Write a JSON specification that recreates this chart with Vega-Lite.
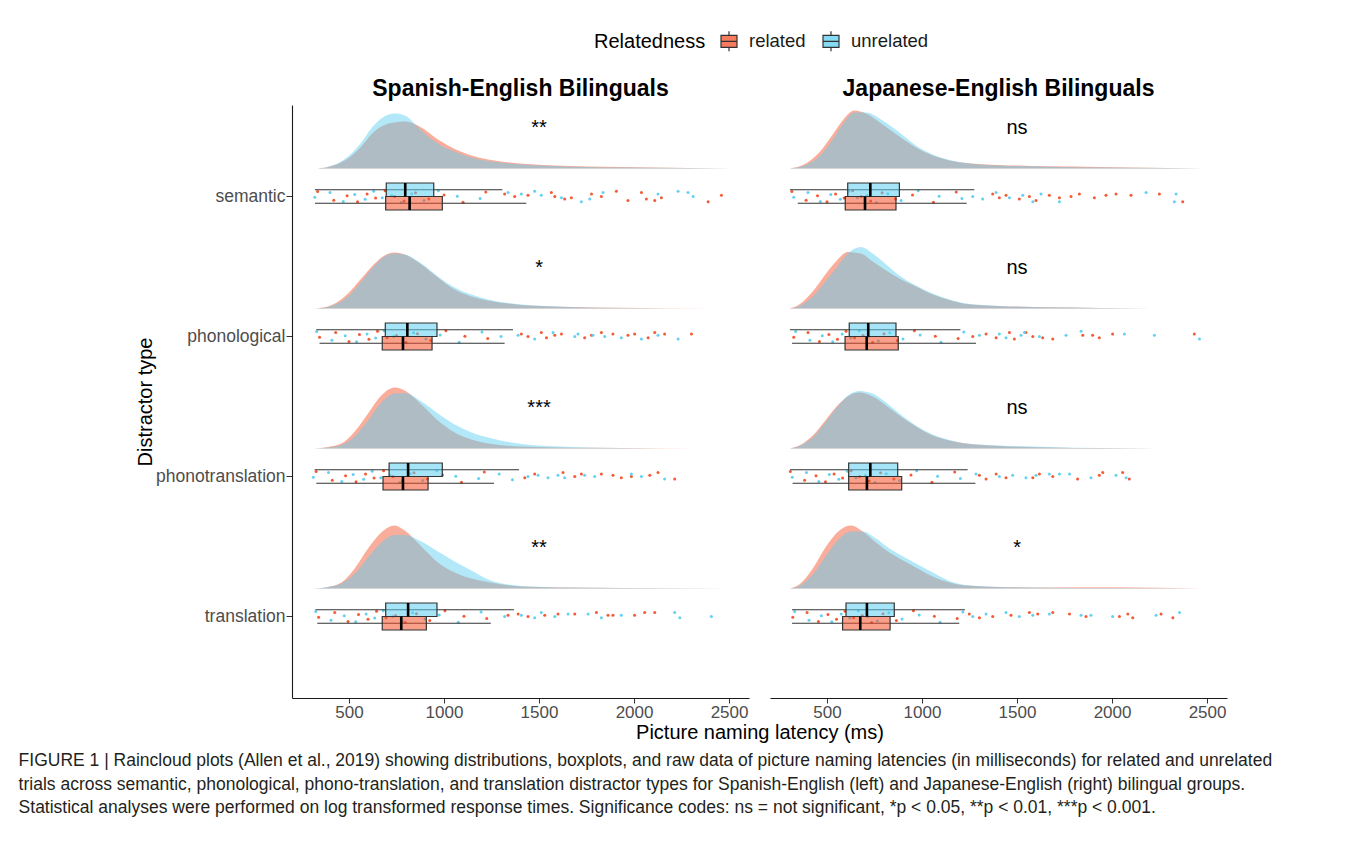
{
"$schema": "https://vega.github.io/schema/vega-lite/v6.json",
"padding": {"left": 18, "top": 30, "right": 5, "bottom": 8},
"data": {"values": [
{"p":"Spanish","c":"semantic","r":"unrelated","lo":321,"q1":696,"med":796,"q3":946,"hi":1307},
{"p":"Spanish","c":"semantic","r":"related","lo":321,"q1":693,"med":819,"q3":991,"hi":1433},
{"p":"Spanish","c":"phonological","r":"unrelated","lo":328,"q1":691,"med":807,"q3":963,"hi":1363},
{"p":"Spanish","c":"phonological","r":"related","lo":345,"q1":675,"med":784,"q3":937,"hi":1319},
{"p":"Spanish","c":"phonotranslation","r":"unrelated","lo":319,"q1":711,"med":811,"q3":991,"hi":1395},
{"p":"Spanish","c":"phonotranslation","r":"related","lo":328,"q1":679,"med":784,"q3":916,"hi":1263},
{"p":"Spanish","c":"translation","r":"unrelated","lo":323,"q1":693,"med":811,"q3":963,"hi":1368},
{"p":"Spanish","c":"translation","r":"related","lo":333,"q1":675,"med":775,"q3":907,"hi":1246},
{"p":"Japanese","c":"semantic","r":"unrelated","lo":305,"q1":609,"med":728,"q3":881,"hi":1275},
{"p":"Japanese","c":"semantic","r":"related","lo":346,"q1":596,"med":700,"q3":863,"hi":1235},
{"p":"Japanese","c":"phonological","r":"unrelated","lo":305,"q1":617,"med":717,"q3":863,"hi":1202},
{"p":"Japanese","c":"phonological","r":"related","lo":316,"q1":595,"med":709,"q3":875,"hi":1284},
{"p":"Japanese","c":"phonotranslation","r":"unrelated","lo":305,"q1":614,"med":728,"q3":872,"hi":1240},
{"p":"Japanese","c":"phonotranslation","r":"related","lo":319,"q1":614,"med":710,"q3":893,"hi":1281},
{"p":"Japanese","c":"translation","r":"unrelated","lo":316,"q1":600,"med":710,"q3":854,"hi":1226},
{"p":"Japanese","c":"translation","r":"related","lo":316,"q1":582,"med":675,"q3":832,"hi":1196},
{"p":"Spanish","c":"semantic","lab":"**"},{"p":"Spanish","c":"phonological","lab":"*"},{"p":"Spanish","c":"phonotranslation","lab":"***"},{"p":"Spanish","c":"translation","lab":"**"},
{"p":"Japanese","c":"semantic","lab":"ns"},{"p":"Japanese","c":"phonological","lab":"ns"},{"p":"Japanese","c":"phonotranslation","lab":"ns"},{"p":"Japanese","c":"translation","lab":"*"},
{"p":"Spanish","c":"semantic","r":"related","x":316,"d":0},{"p":"Spanish","c":"semantic","r":"related","x":389,"d":0.08},{"p":"Spanish","c":"semantic","r":"related","x":495,"d":0.5},{"p":"Spanish","c":"semantic","r":"related","x":565,"d":1.1},{"p":"Spanish","c":"semantic","r":"related","x":617,"d":1.7},{"p":"Spanish","c":"semantic","r":"related","x":670,"d":2.1},{"p":"Spanish","c":"semantic","r":"related","x":740,"d":2.3},{"p":"Spanish","c":"semantic","r":"related","x":793,"d":2.35},{"p":"Spanish","c":"semantic","r":"related","x":881,"d":2.05},{"p":"Spanish","c":"semantic","r":"related","x":968,"d":1.45},{"p":"Spanish","c":"semantic","r":"related","x":1056,"d":0.98},{"p":"Spanish","c":"semantic","r":"related","x":1144,"d":0.65},{"p":"Spanish","c":"semantic","r":"related","x":1319,"d":0.33},{"p":"Spanish","c":"semantic","r":"related","x":1583,"d":0.15},{"p":"Spanish","c":"semantic","r":"related","x":1933,"d":0.08},{"p":"Spanish","c":"semantic","r":"related","x":2284,"d":0.03},{"p":"Spanish","c":"semantic","r":"related","x":2504,"d":0},
{"p":"Spanish","c":"semantic","r":"unrelated","x":316,"d":0},{"p":"Spanish","c":"semantic","r":"unrelated","x":389,"d":0.08},{"p":"Spanish","c":"semantic","r":"unrelated","x":495,"d":0.6},{"p":"Spanish","c":"semantic","r":"unrelated","x":565,"d":1.3},{"p":"Spanish","c":"semantic","r":"unrelated","x":617,"d":2},{"p":"Spanish","c":"semantic","r":"unrelated","x":670,"d":2.5},{"p":"Spanish","c":"semantic","r":"unrelated","x":740,"d":2.75},{"p":"Spanish","c":"semantic","r":"unrelated","x":793,"d":2.65},{"p":"Spanish","c":"semantic","r":"unrelated","x":881,"d":1.9},{"p":"Spanish","c":"semantic","r":"unrelated","x":968,"d":1.25},{"p":"Spanish","c":"semantic","r":"unrelated","x":1056,"d":0.85},{"p":"Spanish","c":"semantic","r":"unrelated","x":1144,"d":0.55},{"p":"Spanish","c":"semantic","r":"unrelated","x":1319,"d":0.28},{"p":"Spanish","c":"semantic","r":"unrelated","x":1583,"d":0.13},{"p":"Spanish","c":"semantic","r":"unrelated","x":1933,"d":0.05},{"p":"Spanish","c":"semantic","r":"unrelated","x":2284,"d":0.03},{"p":"Spanish","c":"semantic","r":"unrelated","x":2504,"d":0},
{"p":"Japanese","c":"semantic","r":"related","x":302,"d":0},{"p":"Japanese","c":"semantic","r":"related","x":389,"d":0.25},{"p":"Japanese","c":"semantic","r":"related","x":459,"d":0.8},{"p":"Japanese","c":"semantic","r":"related","x":530,"d":1.7},{"p":"Japanese","c":"semantic","r":"related","x":582,"d":2.4},{"p":"Japanese","c":"semantic","r":"related","x":644,"d":2.9},{"p":"Japanese","c":"semantic","r":"related","x":705,"d":2.75},{"p":"Japanese","c":"semantic","r":"related","x":793,"d":2.2},{"p":"Japanese","c":"semantic","r":"related","x":881,"d":1.6},{"p":"Japanese","c":"semantic","r":"related","x":968,"d":1.05},{"p":"Japanese","c":"semantic","r":"related","x":1056,"d":0.65},{"p":"Japanese","c":"semantic","r":"related","x":1144,"d":0.4},{"p":"Japanese","c":"semantic","r":"related","x":1232,"d":0.28},{"p":"Japanese","c":"semantic","r":"related","x":1407,"d":0.18},{"p":"Japanese","c":"semantic","r":"related","x":1670,"d":0.11},{"p":"Japanese","c":"semantic","r":"related","x":1933,"d":0.08},{"p":"Japanese","c":"semantic","r":"related","x":2284,"d":0.03},{"p":"Japanese","c":"semantic","r":"related","x":2477,"d":0},
{"p":"Japanese","c":"semantic","r":"unrelated","x":302,"d":0},{"p":"Japanese","c":"semantic","r":"unrelated","x":389,"d":0.18},{"p":"Japanese","c":"semantic","r":"unrelated","x":459,"d":0.6},{"p":"Japanese","c":"semantic","r":"unrelated","x":530,"d":1.45},{"p":"Japanese","c":"semantic","r":"unrelated","x":582,"d":2.2},{"p":"Japanese","c":"semantic","r":"unrelated","x":644,"d":2.8},{"p":"Japanese","c":"semantic","r":"unrelated","x":705,"d":2.8},{"p":"Japanese","c":"semantic","r":"unrelated","x":793,"d":2.4},{"p":"Japanese","c":"semantic","r":"unrelated","x":881,"d":1.8},{"p":"Japanese","c":"semantic","r":"unrelated","x":968,"d":1.15},{"p":"Japanese","c":"semantic","r":"unrelated","x":1056,"d":0.7},{"p":"Japanese","c":"semantic","r":"unrelated","x":1144,"d":0.43},{"p":"Japanese","c":"semantic","r":"unrelated","x":1232,"d":0.28},{"p":"Japanese","c":"semantic","r":"unrelated","x":1407,"d":0.15},{"p":"Japanese","c":"semantic","r":"unrelated","x":1670,"d":0.09},{"p":"Japanese","c":"semantic","r":"unrelated","x":1933,"d":0.05},{"p":"Japanese","c":"semantic","r":"unrelated","x":2284,"d":0.03},{"p":"Japanese","c":"semantic","r":"unrelated","x":2477,"d":0},
{"p":"Spanish","c":"phonological","r":"related","x":316,"d":0},{"p":"Spanish","c":"phonological","r":"related","x":389,"d":0.1},{"p":"Spanish","c":"phonological","r":"related","x":495,"d":0.75},{"p":"Spanish","c":"phonological","r":"related","x":565,"d":1.5},{"p":"Spanish","c":"phonological","r":"related","x":635,"d":2.25},{"p":"Spanish","c":"phonological","r":"related","x":687,"d":2.65},{"p":"Spanish","c":"phonological","r":"related","x":740,"d":2.8},{"p":"Spanish","c":"phonological","r":"related","x":793,"d":2.7},{"p":"Spanish","c":"phonological","r":"related","x":881,"d":2.2},{"p":"Spanish","c":"phonological","r":"related","x":968,"d":1.55},{"p":"Spanish","c":"phonological","r":"related","x":1056,"d":0.95},{"p":"Spanish","c":"phonological","r":"related","x":1144,"d":0.6},{"p":"Spanish","c":"phonological","r":"related","x":1232,"d":0.4},{"p":"Spanish","c":"phonological","r":"related","x":1407,"d":0.18},{"p":"Spanish","c":"phonological","r":"related","x":1670,"d":0.08},{"p":"Spanish","c":"phonological","r":"related","x":1933,"d":0.04},{"p":"Spanish","c":"phonological","r":"related","x":2407,"d":0},
{"p":"Spanish","c":"phonological","r":"unrelated","x":316,"d":0},{"p":"Spanish","c":"phonological","r":"unrelated","x":389,"d":0.08},{"p":"Spanish","c":"phonological","r":"unrelated","x":495,"d":0.6},{"p":"Spanish","c":"phonological","r":"unrelated","x":565,"d":1.35},{"p":"Spanish","c":"phonological","r":"unrelated","x":635,"d":2.15},{"p":"Spanish","c":"phonological","r":"unrelated","x":687,"d":2.6},{"p":"Spanish","c":"phonological","r":"unrelated","x":740,"d":2.75},{"p":"Spanish","c":"phonological","r":"unrelated","x":793,"d":2.7},{"p":"Spanish","c":"phonological","r":"unrelated","x":881,"d":2.25},{"p":"Spanish","c":"phonological","r":"unrelated","x":968,"d":1.6},{"p":"Spanish","c":"phonological","r":"unrelated","x":1056,"d":1.05},{"p":"Spanish","c":"phonological","r":"unrelated","x":1144,"d":0.7},{"p":"Spanish","c":"phonological","r":"unrelated","x":1232,"d":0.45},{"p":"Spanish","c":"phonological","r":"unrelated","x":1407,"d":0.2},{"p":"Spanish","c":"phonological","r":"unrelated","x":1670,"d":0.08},{"p":"Spanish","c":"phonological","r":"unrelated","x":1933,"d":0.03},{"p":"Spanish","c":"phonological","r":"unrelated","x":2407,"d":0},
{"p":"Japanese","c":"phonological","r":"related","x":302,"d":0},{"p":"Japanese","c":"phonological","r":"related","x":354,"d":0.2},{"p":"Japanese","c":"phonological","r":"related","x":425,"d":0.85},{"p":"Japanese","c":"phonological","r":"related","x":495,"d":1.75},{"p":"Japanese","c":"phonological","r":"related","x":547,"d":2.35},{"p":"Japanese","c":"phonological","r":"related","x":609,"d":2.83},{"p":"Japanese","c":"phonological","r":"related","x":679,"d":2.75},{"p":"Japanese","c":"phonological","r":"related","x":740,"d":2.35},{"p":"Japanese","c":"phonological","r":"related","x":811,"d":1.9},{"p":"Japanese","c":"phonological","r":"related","x":881,"d":1.5},{"p":"Japanese","c":"phonological","r":"related","x":968,"d":1.1},{"p":"Japanese","c":"phonological","r":"related","x":1056,"d":0.7},{"p":"Japanese","c":"phonological","r":"related","x":1144,"d":0.43},{"p":"Japanese","c":"phonological","r":"related","x":1232,"d":0.23},{"p":"Japanese","c":"phonological","r":"related","x":1407,"d":0.13},{"p":"Japanese","c":"phonological","r":"related","x":1670,"d":0.06},{"p":"Japanese","c":"phonological","r":"related","x":1933,"d":0.03},{"p":"Japanese","c":"phonological","r":"related","x":2477,"d":0},
{"p":"Japanese","c":"phonological","r":"unrelated","x":302,"d":0},{"p":"Japanese","c":"phonological","r":"unrelated","x":354,"d":0.13},{"p":"Japanese","c":"phonological","r":"unrelated","x":425,"d":0.6},{"p":"Japanese","c":"phonological","r":"unrelated","x":495,"d":1.4},{"p":"Japanese","c":"phonological","r":"unrelated","x":547,"d":2},{"p":"Japanese","c":"phonological","r":"unrelated","x":609,"d":2.75},{"p":"Japanese","c":"phonological","r":"unrelated","x":679,"d":3.08},{"p":"Japanese","c":"phonological","r":"unrelated","x":740,"d":2.75},{"p":"Japanese","c":"phonological","r":"unrelated","x":811,"d":2.2},{"p":"Japanese","c":"phonological","r":"unrelated","x":881,"d":1.65},{"p":"Japanese","c":"phonological","r":"unrelated","x":968,"d":1.15},{"p":"Japanese","c":"phonological","r":"unrelated","x":1056,"d":0.75},{"p":"Japanese","c":"phonological","r":"unrelated","x":1144,"d":0.45},{"p":"Japanese","c":"phonological","r":"unrelated","x":1232,"d":0.25},{"p":"Japanese","c":"phonological","r":"unrelated","x":1407,"d":0.13},{"p":"Japanese","c":"phonological","r":"unrelated","x":1670,"d":0.06},{"p":"Japanese","c":"phonological","r":"unrelated","x":1933,"d":0.03},{"p":"Japanese","c":"phonological","r":"unrelated","x":2477,"d":0},
{"p":"Spanish","c":"phonotranslation","r":"related","x":316,"d":0},{"p":"Spanish","c":"phonotranslation","r":"related","x":389,"d":0.08},{"p":"Spanish","c":"phonotranslation","r":"related","x":460,"d":0.25},{"p":"Spanish","c":"phonotranslation","r":"related","x":530,"d":0.85},{"p":"Spanish","c":"phonotranslation","r":"related","x":600,"d":1.75},{"p":"Spanish","c":"phonotranslation","r":"related","x":670,"d":2.65},{"p":"Spanish","c":"phonotranslation","r":"related","x":740,"d":3.05},{"p":"Spanish","c":"phonotranslation","r":"related","x":793,"d":2.9},{"p":"Spanish","c":"phonotranslation","r":"related","x":881,"d":2.2},{"p":"Spanish","c":"phonotranslation","r":"related","x":968,"d":1.4},{"p":"Spanish","c":"phonotranslation","r":"related","x":1056,"d":0.8},{"p":"Spanish","c":"phonotranslation","r":"related","x":1144,"d":0.45},{"p":"Spanish","c":"phonotranslation","r":"related","x":1232,"d":0.25},{"p":"Spanish","c":"phonotranslation","r":"related","x":1407,"d":0.1},{"p":"Spanish","c":"phonotranslation","r":"related","x":1670,"d":0.04},{"p":"Spanish","c":"phonotranslation","r":"related","x":1933,"d":0.03},{"p":"Spanish","c":"phonotranslation","r":"related","x":2311,"d":0},
{"p":"Spanish","c":"phonotranslation","r":"unrelated","x":316,"d":0},{"p":"Spanish","c":"phonotranslation","r":"unrelated","x":389,"d":0.05},{"p":"Spanish","c":"phonotranslation","r":"unrelated","x":460,"d":0.18},{"p":"Spanish","c":"phonotranslation","r":"unrelated","x":530,"d":0.6},{"p":"Spanish","c":"phonotranslation","r":"unrelated","x":600,"d":1.4},{"p":"Spanish","c":"phonotranslation","r":"unrelated","x":670,"d":2.3},{"p":"Spanish","c":"phonotranslation","r":"unrelated","x":740,"d":2.75},{"p":"Spanish","c":"phonotranslation","r":"unrelated","x":793,"d":2.78},{"p":"Spanish","c":"phonotranslation","r":"unrelated","x":881,"d":2.35},{"p":"Spanish","c":"phonotranslation","r":"unrelated","x":968,"d":1.75},{"p":"Spanish","c":"phonotranslation","r":"unrelated","x":1056,"d":1.2},{"p":"Spanish","c":"phonotranslation","r":"unrelated","x":1144,"d":0.8},{"p":"Spanish","c":"phonotranslation","r":"unrelated","x":1232,"d":0.55},{"p":"Spanish","c":"phonotranslation","r":"unrelated","x":1407,"d":0.23},{"p":"Spanish","c":"phonotranslation","r":"unrelated","x":1670,"d":0.08},{"p":"Spanish","c":"phonotranslation","r":"unrelated","x":1933,"d":0.03},{"p":"Spanish","c":"phonotranslation","r":"unrelated","x":2311,"d":0},
{"p":"Japanese","c":"phonotranslation","r":"related","x":302,"d":0},{"p":"Japanese","c":"phonotranslation","r":"related","x":354,"d":0.15},{"p":"Japanese","c":"phonotranslation","r":"related","x":425,"d":0.65},{"p":"Japanese","c":"phonotranslation","r":"related","x":495,"d":1.45},{"p":"Japanese","c":"phonotranslation","r":"related","x":565,"d":2.25},{"p":"Japanese","c":"phonotranslation","r":"related","x":617,"d":2.65},{"p":"Japanese","c":"phonotranslation","r":"related","x":670,"d":2.8},{"p":"Japanese","c":"phonotranslation","r":"related","x":740,"d":2.6},{"p":"Japanese","c":"phonotranslation","r":"related","x":811,"d":2.15},{"p":"Japanese","c":"phonotranslation","r":"related","x":881,"d":1.65},{"p":"Japanese","c":"phonotranslation","r":"related","x":968,"d":1.1},{"p":"Japanese","c":"phonotranslation","r":"related","x":1056,"d":0.65},{"p":"Japanese","c":"phonotranslation","r":"related","x":1144,"d":0.4},{"p":"Japanese","c":"phonotranslation","r":"related","x":1232,"d":0.25},{"p":"Japanese","c":"phonotranslation","r":"related","x":1407,"d":0.13},{"p":"Japanese","c":"phonotranslation","r":"related","x":1670,"d":0.05},{"p":"Japanese","c":"phonotranslation","r":"related","x":1933,"d":0.02},{"p":"Japanese","c":"phonotranslation","r":"related","x":2232,"d":0},
{"p":"Japanese","c":"phonotranslation","r":"unrelated","x":302,"d":0},{"p":"Japanese","c":"phonotranslation","r":"unrelated","x":354,"d":0.13},{"p":"Japanese","c":"phonotranslation","r":"unrelated","x":425,"d":0.55},{"p":"Japanese","c":"phonotranslation","r":"unrelated","x":495,"d":1.35},{"p":"Japanese","c":"phonotranslation","r":"unrelated","x":565,"d":2.2},{"p":"Japanese","c":"phonotranslation","r":"unrelated","x":617,"d":2.7},{"p":"Japanese","c":"phonotranslation","r":"unrelated","x":670,"d":2.88},{"p":"Japanese","c":"phonotranslation","r":"unrelated","x":740,"d":2.75},{"p":"Japanese","c":"phonotranslation","r":"unrelated","x":811,"d":2.3},{"p":"Japanese","c":"phonotranslation","r":"unrelated","x":881,"d":1.75},{"p":"Japanese","c":"phonotranslation","r":"unrelated","x":968,"d":1.15},{"p":"Japanese","c":"phonotranslation","r":"unrelated","x":1056,"d":0.7},{"p":"Japanese","c":"phonotranslation","r":"unrelated","x":1144,"d":0.43},{"p":"Japanese","c":"phonotranslation","r":"unrelated","x":1232,"d":0.25},{"p":"Japanese","c":"phonotranslation","r":"unrelated","x":1407,"d":0.15},{"p":"Japanese","c":"phonotranslation","r":"unrelated","x":1670,"d":0.08},{"p":"Japanese","c":"phonotranslation","r":"unrelated","x":1933,"d":0.02},{"p":"Japanese","c":"phonotranslation","r":"unrelated","x":2232,"d":0},
{"p":"Spanish","c":"translation","r":"related","x":316,"d":0},{"p":"Spanish","c":"translation","r":"related","x":389,"d":0.08},{"p":"Spanish","c":"translation","r":"related","x":460,"d":0.3},{"p":"Spanish","c":"translation","r":"related","x":530,"d":1},{"p":"Spanish","c":"translation","r":"related","x":600,"d":2},{"p":"Spanish","c":"translation","r":"related","x":670,"d":2.8},{"p":"Spanish","c":"translation","r":"related","x":740,"d":3.15},{"p":"Spanish","c":"translation","r":"related","x":793,"d":2.9},{"p":"Spanish","c":"translation","r":"related","x":881,"d":2.1},{"p":"Spanish","c":"translation","r":"related","x":968,"d":1.3},{"p":"Spanish","c":"translation","r":"related","x":1056,"d":0.8},{"p":"Spanish","c":"translation","r":"related","x":1144,"d":0.5},{"p":"Spanish","c":"translation","r":"related","x":1232,"d":0.33},{"p":"Spanish","c":"translation","r":"related","x":1407,"d":0.1},{"p":"Spanish","c":"translation","r":"related","x":1670,"d":0.05},{"p":"Spanish","c":"translation","r":"related","x":1933,"d":0.03},{"p":"Spanish","c":"translation","r":"related","x":2495,"d":0},
{"p":"Spanish","c":"translation","r":"unrelated","x":316,"d":0},{"p":"Spanish","c":"translation","r":"unrelated","x":389,"d":0.08},{"p":"Spanish","c":"translation","r":"unrelated","x":460,"d":0.25},{"p":"Spanish","c":"translation","r":"unrelated","x":530,"d":0.75},{"p":"Spanish","c":"translation","r":"unrelated","x":600,"d":1.55},{"p":"Spanish","c":"translation","r":"unrelated","x":670,"d":2.3},{"p":"Spanish","c":"translation","r":"unrelated","x":740,"d":2.68},{"p":"Spanish","c":"translation","r":"unrelated","x":793,"d":2.68},{"p":"Spanish","c":"translation","r":"unrelated","x":881,"d":2.35},{"p":"Spanish","c":"translation","r":"unrelated","x":968,"d":1.85},{"p":"Spanish","c":"translation","r":"unrelated","x":1056,"d":1.35},{"p":"Spanish","c":"translation","r":"unrelated","x":1144,"d":0.9},{"p":"Spanish","c":"translation","r":"unrelated","x":1232,"d":0.45},{"p":"Spanish","c":"translation","r":"unrelated","x":1407,"d":0.13},{"p":"Spanish","c":"translation","r":"unrelated","x":1670,"d":0.05},{"p":"Spanish","c":"translation","r":"unrelated","x":1933,"d":0.03},{"p":"Spanish","c":"translation","r":"unrelated","x":2495,"d":0},
{"p":"Japanese","c":"translation","r":"related","x":302,"d":0},{"p":"Japanese","c":"translation","r":"related","x":354,"d":0.2},{"p":"Japanese","c":"translation","r":"related","x":425,"d":1},{"p":"Japanese","c":"translation","r":"related","x":495,"d":2.1},{"p":"Japanese","c":"translation","r":"related","x":565,"d":2.9},{"p":"Japanese","c":"translation","r":"related","x":626,"d":3.15},{"p":"Japanese","c":"translation","r":"related","x":688,"d":2.85},{"p":"Japanese","c":"translation","r":"related","x":758,"d":2.3},{"p":"Japanese","c":"translation","r":"related","x":828,"d":1.8},{"p":"Japanese","c":"translation","r":"related","x":881,"d":1.5},{"p":"Japanese","c":"translation","r":"related","x":968,"d":1.05},{"p":"Japanese","c":"translation","r":"related","x":1056,"d":0.6},{"p":"Japanese","c":"translation","r":"related","x":1144,"d":0.3},{"p":"Japanese","c":"translation","r":"related","x":1232,"d":0.15},{"p":"Japanese","c":"translation","r":"related","x":1407,"d":0.08},{"p":"Japanese","c":"translation","r":"related","x":1670,"d":0.05},{"p":"Japanese","c":"translation","r":"related","x":2021,"d":0.06},{"p":"Japanese","c":"translation","r":"related","x":2460,"d":0},
{"p":"Japanese","c":"translation","r":"unrelated","x":302,"d":0},{"p":"Japanese","c":"translation","r":"unrelated","x":354,"d":0.13},{"p":"Japanese","c":"translation","r":"unrelated","x":425,"d":0.7},{"p":"Japanese","c":"translation","r":"unrelated","x":495,"d":1.65},{"p":"Japanese","c":"translation","r":"unrelated","x":565,"d":2.5},{"p":"Japanese","c":"translation","r":"unrelated","x":626,"d":2.85},{"p":"Japanese","c":"translation","r":"unrelated","x":688,"d":2.85},{"p":"Japanese","c":"translation","r":"unrelated","x":758,"d":2.5},{"p":"Japanese","c":"translation","r":"unrelated","x":828,"d":2},{"p":"Japanese","c":"translation","r":"unrelated","x":881,"d":1.7},{"p":"Japanese","c":"translation","r":"unrelated","x":968,"d":1.25},{"p":"Japanese","c":"translation","r":"unrelated","x":1056,"d":0.8},{"p":"Japanese","c":"translation","r":"unrelated","x":1144,"d":0.38},{"p":"Japanese","c":"translation","r":"unrelated","x":1232,"d":0.18},{"p":"Japanese","c":"translation","r":"unrelated","x":1407,"d":0.08},{"p":"Japanese","c":"translation","r":"unrelated","x":1670,"d":0.04},{"p":"Japanese","c":"translation","r":"unrelated","x":2021,"d":0.02},{"p":"Japanese","c":"translation","r":"unrelated","x":2460,"d":0},
{"p":"Spanish","c":"semantic","r":"related","x":335,"j":0.12},{"p":"Spanish","c":"semantic","r":"related","x":420,"j":0.78},{"p":"Spanish","c":"semantic","r":"related","x":490,"j":0.45},{"p":"Spanish","c":"semantic","r":"related","x":545,"j":0.9},{"p":"Spanish","c":"semantic","r":"related","x":595,"j":0.3},{"p":"Spanish","c":"semantic","r":"related","x":640,"j":0.62},{"p":"Spanish","c":"semantic","r":"related","x":690,"j":0.05},{"p":"Spanish","c":"semantic","r":"related","x":740,"j":0.5},{"p":"Spanish","c":"semantic","r":"related","x":790,"j":0.85},{"p":"Spanish","c":"semantic","r":"related","x":850,"j":0.22},{"p":"Spanish","c":"semantic","r":"related","x":920,"j":0.7},{"p":"Spanish","c":"semantic","r":"related","x":1000,"j":0.38},{"p":"Spanish","c":"semantic","r":"related","x":1100,"j":0.95},{"p":"Spanish","c":"semantic","r":"related","x":1220,"j":0.15},
{"p":"Spanish","c":"semantic","r":"related","x":1319,"j":0.3},{"p":"Spanish","c":"semantic","r":"related","x":1372,"j":0.5},{"p":"Spanish","c":"semantic","r":"related","x":1442,"j":0.4},{"p":"Spanish","c":"semantic","r":"related","x":1565,"j":0.2},{"p":"Spanish","c":"semantic","r":"related","x":1583,"j":0.5},{"p":"Spanish","c":"semantic","r":"related","x":1635,"j":0.7},{"p":"Spanish","c":"semantic","r":"related","x":1670,"j":0.6},{"p":"Spanish","c":"semantic","r":"related","x":1776,"j":0.3},{"p":"Spanish","c":"semantic","r":"related","x":1828,"j":0.5},{"p":"Spanish","c":"semantic","r":"related","x":1907,"j":0.1},{"p":"Spanish","c":"semantic","r":"related","x":1968,"j":0.8},{"p":"Spanish","c":"semantic","r":"related","x":2039,"j":0.2},{"p":"Spanish","c":"semantic","r":"related","x":2065,"j":0.7},{"p":"Spanish","c":"semantic","r":"related","x":2109,"j":0.8},{"p":"Spanish","c":"semantic","r":"related","x":2144,"j":0.6},{"p":"Spanish","c":"semantic","r":"related","x":2390,"j":0.9},{"p":"Spanish","c":"semantic","r":"related","x":2460,"j":0.4},
{"p":"Spanish","c":"semantic","r":"unrelated","x":320,"j":0.55},{"p":"Spanish","c":"semantic","r":"unrelated","x":400,"j":0.2},{"p":"Spanish","c":"semantic","r":"unrelated","x":470,"j":0.88},{"p":"Spanish","c":"semantic","r":"unrelated","x":530,"j":0.35},{"p":"Spanish","c":"semantic","r":"unrelated","x":585,"j":0.72},{"p":"Spanish","c":"semantic","r":"unrelated","x":630,"j":0.1},{"p":"Spanish","c":"semantic","r":"unrelated","x":675,"j":0.6},{"p":"Spanish","c":"semantic","r":"unrelated","x":725,"j":0.42},{"p":"Spanish","c":"semantic","r":"unrelated","x":775,"j":0.97},{"p":"Spanish","c":"semantic","r":"unrelated","x":830,"j":0.28},{"p":"Spanish","c":"semantic","r":"unrelated","x":895,"j":0.8},{"p":"Spanish","c":"semantic","r":"unrelated","x":970,"j":0.05},{"p":"Spanish","c":"semantic","r":"unrelated","x":1070,"j":0.48},{"p":"Spanish","c":"semantic","r":"unrelated","x":1190,"j":0.66},
{"p":"Spanish","c":"semantic","r":"unrelated","x":1337,"j":0.2},{"p":"Spanish","c":"semantic","r":"unrelated","x":1407,"j":0.3},{"p":"Spanish","c":"semantic","r":"unrelated","x":1477,"j":0.1},{"p":"Spanish","c":"semantic","r":"unrelated","x":1512,"j":0.4},{"p":"Spanish","c":"semantic","r":"unrelated","x":1618,"j":0.6},{"p":"Spanish","c":"semantic","r":"unrelated","x":1723,"j":0.9},{"p":"Spanish","c":"semantic","r":"unrelated","x":1767,"j":0.7},{"p":"Spanish","c":"semantic","r":"unrelated","x":1837,"j":0.2},{"p":"Spanish","c":"semantic","r":"unrelated","x":2126,"j":0.3},{"p":"Spanish","c":"semantic","r":"unrelated","x":2232,"j":0.1},{"p":"Spanish","c":"semantic","r":"unrelated","x":2284,"j":0.2},{"p":"Spanish","c":"semantic","r":"unrelated","x":2311,"j":0.5},
{"p":"Spanish","c":"phonological","r":"related","x":345,"j":0.55},{"p":"Spanish","c":"phonological","r":"related","x":430,"j":0.2},{"p":"Spanish","c":"phonological","r":"related","x":500,"j":0.88},{"p":"Spanish","c":"phonological","r":"related","x":555,"j":0.35},{"p":"Spanish","c":"phonological","r":"related","x":605,"j":0.72},{"p":"Spanish","c":"phonological","r":"related","x":650,"j":0.1},{"p":"Spanish","c":"phonological","r":"related","x":700,"j":0.6},{"p":"Spanish","c":"phonological","r":"related","x":750,"j":0.42},{"p":"Spanish","c":"phonological","r":"related","x":800,"j":0.97},{"p":"Spanish","c":"phonological","r":"related","x":860,"j":0.28},{"p":"Spanish","c":"phonological","r":"related","x":930,"j":0.8},{"p":"Spanish","c":"phonological","r":"related","x":1010,"j":0.05},{"p":"Spanish","c":"phonological","r":"related","x":1110,"j":0.48},{"p":"Spanish","c":"phonological","r":"related","x":1230,"j":0.66},
{"p":"Spanish","c":"phonological","r":"related","x":1407,"j":0.3},{"p":"Spanish","c":"phonological","r":"related","x":1442,"j":0.5},{"p":"Spanish","c":"phonological","r":"related","x":1512,"j":0.2},{"p":"Spanish","c":"phonological","r":"related","x":1539,"j":0.6},{"p":"Spanish","c":"phonological","r":"related","x":1583,"j":0.4},{"p":"Spanish","c":"phonological","r":"related","x":1618,"j":0.3},{"p":"Spanish","c":"phonological","r":"related","x":1740,"j":0.6},{"p":"Spanish","c":"phonological","r":"related","x":1776,"j":0.4},{"p":"Spanish","c":"phonological","r":"related","x":1828,"j":0.2},{"p":"Spanish","c":"phonological","r":"related","x":1889,"j":0.3},{"p":"Spanish","c":"phonological","r":"related","x":1968,"j":0.4},{"p":"Spanish","c":"phonological","r":"related","x":2003,"j":0.3},{"p":"Spanish","c":"phonological","r":"related","x":2074,"j":0.6},{"p":"Spanish","c":"phonological","r":"related","x":2109,"j":0.2},{"p":"Spanish","c":"phonological","r":"related","x":2161,"j":0.3},{"p":"Spanish","c":"phonological","r":"related","x":2302,"j":0.3},
{"p":"Spanish","c":"phonological","r":"unrelated","x":330,"j":0.12},{"p":"Spanish","c":"phonological","r":"unrelated","x":410,"j":0.78},{"p":"Spanish","c":"phonological","r":"unrelated","x":480,"j":0.45},{"p":"Spanish","c":"phonological","r":"unrelated","x":540,"j":0.9},{"p":"Spanish","c":"phonological","r":"unrelated","x":595,"j":0.3},{"p":"Spanish","c":"phonological","r":"unrelated","x":640,"j":0.62},{"p":"Spanish","c":"phonological","r":"unrelated","x":685,"j":0.05},{"p":"Spanish","c":"phonological","r":"unrelated","x":735,"j":0.5},{"p":"Spanish","c":"phonological","r":"unrelated","x":785,"j":0.85},{"p":"Spanish","c":"phonological","r":"unrelated","x":840,"j":0.22},{"p":"Spanish","c":"phonological","r":"unrelated","x":905,"j":0.7},{"p":"Spanish","c":"phonological","r":"unrelated","x":980,"j":0.38},{"p":"Spanish","c":"phonological","r":"unrelated","x":1080,"j":0.95},{"p":"Spanish","c":"phonological","r":"unrelated","x":1200,"j":0.15},{"p":"Spanish","c":"phonological","r":"unrelated","x":1300,"j":0.5},
{"p":"Spanish","c":"phonological","r":"unrelated","x":1390,"j":0.4},{"p":"Spanish","c":"phonological","r":"unrelated","x":1477,"j":0.7},{"p":"Spanish","c":"phonological","r":"unrelated","x":1574,"j":0.2},{"p":"Spanish","c":"phonological","r":"unrelated","x":1688,"j":0.5},{"p":"Spanish","c":"phonological","r":"unrelated","x":1705,"j":0.3},{"p":"Spanish","c":"phonological","r":"unrelated","x":1784,"j":0.4},{"p":"Spanish","c":"phonological","r":"unrelated","x":1846,"j":0.5},{"p":"Spanish","c":"phonological","r":"unrelated","x":1933,"j":0.6},{"p":"Spanish","c":"phonological","r":"unrelated","x":2039,"j":0.7},{"p":"Spanish","c":"phonological","r":"unrelated","x":2126,"j":0.4},{"p":"Spanish","c":"phonological","r":"unrelated","x":2232,"j":0.7},
{"p":"Spanish","c":"phonotranslation","r":"related","x":327,"j":0.12},{"p":"Spanish","c":"phonotranslation","r":"related","x":412,"j":0.78},{"p":"Spanish","c":"phonotranslation","r":"related","x":482,"j":0.45},{"p":"Spanish","c":"phonotranslation","r":"related","x":537,"j":0.9},{"p":"Spanish","c":"phonotranslation","r":"related","x":587,"j":0.3},{"p":"Spanish","c":"phonotranslation","r":"related","x":632,"j":0.62},{"p":"Spanish","c":"phonotranslation","r":"related","x":682,"j":0.05},{"p":"Spanish","c":"phonotranslation","r":"related","x":732,"j":0.5},{"p":"Spanish","c":"phonotranslation","r":"related","x":782,"j":0.85},{"p":"Spanish","c":"phonotranslation","r":"related","x":842,"j":0.22},{"p":"Spanish","c":"phonotranslation","r":"related","x":912,"j":0.7},{"p":"Spanish","c":"phonotranslation","r":"related","x":992,"j":0.38},{"p":"Spanish","c":"phonotranslation","r":"related","x":1092,"j":0.95},{"p":"Spanish","c":"phonotranslation","r":"related","x":1212,"j":0.15},
{"p":"Spanish","c":"phonotranslation","r":"related","x":1425,"j":0.6},{"p":"Spanish","c":"phonotranslation","r":"related","x":1477,"j":0.3},{"p":"Spanish","c":"phonotranslation","r":"related","x":1626,"j":0.2},{"p":"Spanish","c":"phonotranslation","r":"related","x":1688,"j":0.5},{"p":"Spanish","c":"phonotranslation","r":"related","x":1723,"j":0.3},{"p":"Spanish","c":"phonotranslation","r":"related","x":1828,"j":0.3},{"p":"Spanish","c":"phonotranslation","r":"related","x":1889,"j":0.4},{"p":"Spanish","c":"phonotranslation","r":"related","x":1933,"j":0.6},{"p":"Spanish","c":"phonotranslation","r":"related","x":1986,"j":0.5},{"p":"Spanish","c":"phonotranslation","r":"related","x":2083,"j":0.4},{"p":"Spanish","c":"phonotranslation","r":"related","x":2126,"j":0.2},{"p":"Spanish","c":"phonotranslation","r":"related","x":2214,"j":0.7},
{"p":"Spanish","c":"phonotranslation","r":"unrelated","x":312,"j":0.55},{"p":"Spanish","c":"phonotranslation","r":"unrelated","x":392,"j":0.2},{"p":"Spanish","c":"phonotranslation","r":"unrelated","x":462,"j":0.88},{"p":"Spanish","c":"phonotranslation","r":"unrelated","x":522,"j":0.35},{"p":"Spanish","c":"phonotranslation","r":"unrelated","x":577,"j":0.72},{"p":"Spanish","c":"phonotranslation","r":"unrelated","x":622,"j":0.1},{"p":"Spanish","c":"phonotranslation","r":"unrelated","x":667,"j":0.6},{"p":"Spanish","c":"phonotranslation","r":"unrelated","x":717,"j":0.42},{"p":"Spanish","c":"phonotranslation","r":"unrelated","x":767,"j":0.97},{"p":"Spanish","c":"phonotranslation","r":"unrelated","x":822,"j":0.28},{"p":"Spanish","c":"phonotranslation","r":"unrelated","x":887,"j":0.8},{"p":"Spanish","c":"phonotranslation","r":"unrelated","x":962,"j":0.05},{"p":"Spanish","c":"phonotranslation","r":"unrelated","x":1062,"j":0.48},{"p":"Spanish","c":"phonotranslation","r":"unrelated","x":1182,"j":0.66},{"p":"Spanish","c":"phonotranslation","r":"unrelated","x":1290,"j":0.3},{"p":"Spanish","c":"phonotranslation","r":"unrelated","x":1360,"j":0.75},
{"p":"Spanish","c":"phonotranslation","r":"unrelated","x":1442,"j":0.5},{"p":"Spanish","c":"phonotranslation","r":"unrelated","x":1495,"j":0.4},{"p":"Spanish","c":"phonotranslation","r":"unrelated","x":1547,"j":0.6},{"p":"Spanish","c":"phonotranslation","r":"unrelated","x":1600,"j":0.4},{"p":"Spanish","c":"phonotranslation","r":"unrelated","x":1635,"j":0.6},{"p":"Spanish","c":"phonotranslation","r":"unrelated","x":1740,"j":0.4},{"p":"Spanish","c":"phonotranslation","r":"unrelated","x":1793,"j":0.5},{"p":"Spanish","c":"phonotranslation","r":"unrelated","x":1986,"j":0.3},{"p":"Spanish","c":"phonotranslation","r":"unrelated","x":2039,"j":0.5},{"p":"Spanish","c":"phonotranslation","r":"unrelated","x":2161,"j":0.7},
{"p":"Spanish","c":"translation","r":"related","x":340,"j":0.55},{"p":"Spanish","c":"translation","r":"related","x":425,"j":0.2},{"p":"Spanish","c":"translation","r":"related","x":495,"j":0.88},{"p":"Spanish","c":"translation","r":"related","x":550,"j":0.35},{"p":"Spanish","c":"translation","r":"related","x":600,"j":0.72},{"p":"Spanish","c":"translation","r":"related","x":645,"j":0.1},{"p":"Spanish","c":"translation","r":"related","x":695,"j":0.6},{"p":"Spanish","c":"translation","r":"related","x":745,"j":0.42},{"p":"Spanish","c":"translation","r":"related","x":795,"j":0.97},{"p":"Spanish","c":"translation","r":"related","x":855,"j":0.28},{"p":"Spanish","c":"translation","r":"related","x":925,"j":0.8},{"p":"Spanish","c":"translation","r":"related","x":1005,"j":0.05},{"p":"Spanish","c":"translation","r":"related","x":1105,"j":0.48},{"p":"Spanish","c":"translation","r":"related","x":1225,"j":0.66},
{"p":"Spanish","c":"translation","r":"related","x":1337,"j":0.4},{"p":"Spanish","c":"translation","r":"related","x":1390,"j":0.3},{"p":"Spanish","c":"translation","r":"related","x":1442,"j":0.5},{"p":"Spanish","c":"translation","r":"related","x":1530,"j":0.4},{"p":"Spanish","c":"translation","r":"related","x":1600,"j":0.3},{"p":"Spanish","c":"translation","r":"related","x":1688,"j":0.3},{"p":"Spanish","c":"translation","r":"related","x":1802,"j":0.2},{"p":"Spanish","c":"translation","r":"related","x":1863,"j":0.4},{"p":"Spanish","c":"translation","r":"related","x":1889,"j":0.4},{"p":"Spanish","c":"translation","r":"related","x":2003,"j":0.4},{"p":"Spanish","c":"translation","r":"related","x":2056,"j":0.2},{"p":"Spanish","c":"translation","r":"related","x":2109,"j":0.2},
{"p":"Spanish","c":"translation","r":"unrelated","x":325,"j":0.12},{"p":"Spanish","c":"translation","r":"unrelated","x":405,"j":0.78},{"p":"Spanish","c":"translation","r":"unrelated","x":475,"j":0.45},{"p":"Spanish","c":"translation","r":"unrelated","x":535,"j":0.9},{"p":"Spanish","c":"translation","r":"unrelated","x":590,"j":0.3},{"p":"Spanish","c":"translation","r":"unrelated","x":635,"j":0.62},{"p":"Spanish","c":"translation","r":"unrelated","x":680,"j":0.05},{"p":"Spanish","c":"translation","r":"unrelated","x":730,"j":0.5},{"p":"Spanish","c":"translation","r":"unrelated","x":780,"j":0.85},{"p":"Spanish","c":"translation","r":"unrelated","x":835,"j":0.22},{"p":"Spanish","c":"translation","r":"unrelated","x":900,"j":0.7},{"p":"Spanish","c":"translation","r":"unrelated","x":975,"j":0.38},{"p":"Spanish","c":"translation","r":"unrelated","x":1075,"j":0.95},{"p":"Spanish","c":"translation","r":"unrelated","x":1195,"j":0.15},
{"p":"Spanish","c":"translation","r":"unrelated","x":1319,"j":0.5},{"p":"Spanish","c":"translation","r":"unrelated","x":1407,"j":0.4},{"p":"Spanish","c":"translation","r":"unrelated","x":1477,"j":0.6},{"p":"Spanish","c":"translation","r":"unrelated","x":1512,"j":0.2},{"p":"Spanish","c":"translation","r":"unrelated","x":1583,"j":0.5},{"p":"Spanish","c":"translation","r":"unrelated","x":1653,"j":0.3},{"p":"Spanish","c":"translation","r":"unrelated","x":1758,"j":0.3},{"p":"Spanish","c":"translation","r":"unrelated","x":1828,"j":0.6},{"p":"Spanish","c":"translation","r":"unrelated","x":1933,"j":0.4},{"p":"Spanish","c":"translation","r":"unrelated","x":2214,"j":0.2},{"p":"Spanish","c":"translation","r":"unrelated","x":2241,"j":0.6},{"p":"Spanish","c":"translation","r":"unrelated","x":2407,"j":0.5},
{"p":"Japanese","c":"semantic","r":"related","x":315,"j":0.12},{"p":"Japanese","c":"semantic","r":"related","x":390,"j":0.78},{"p":"Japanese","c":"semantic","r":"related","x":450,"j":0.45},{"p":"Japanese","c":"semantic","r":"related","x":500,"j":0.9},{"p":"Japanese","c":"semantic","r":"related","x":545,"j":0.3},{"p":"Japanese","c":"semantic","r":"related","x":590,"j":0.62},{"p":"Japanese","c":"semantic","r":"related","x":635,"j":0.05},{"p":"Japanese","c":"semantic","r":"related","x":680,"j":0.5},{"p":"Japanese","c":"semantic","r":"related","x":730,"j":0.85},{"p":"Japanese","c":"semantic","r":"related","x":790,"j":0.22},{"p":"Japanese","c":"semantic","r":"related","x":860,"j":0.7},{"p":"Japanese","c":"semantic","r":"related","x":950,"j":0.38},{"p":"Japanese","c":"semantic","r":"related","x":1060,"j":0.95},{"p":"Japanese","c":"semantic","r":"related","x":1180,"j":0.15},
{"p":"Japanese","c":"semantic","r":"related","x":1372,"j":0.3},{"p":"Japanese","c":"semantic","r":"related","x":1407,"j":0.6},{"p":"Japanese","c":"semantic","r":"related","x":1442,"j":0.4},{"p":"Japanese","c":"semantic","r":"related","x":1512,"j":0.7},{"p":"Japanese","c":"semantic","r":"related","x":1565,"j":0.5},{"p":"Japanese","c":"semantic","r":"related","x":1600,"j":0.8},{"p":"Japanese","c":"semantic","r":"related","x":1670,"j":0.4},{"p":"Japanese","c":"semantic","r":"related","x":1723,"j":0.6},{"p":"Japanese","c":"semantic","r":"related","x":1784,"j":0.5},{"p":"Japanese","c":"semantic","r":"related","x":1828,"j":0.3},{"p":"Japanese","c":"semantic","r":"related","x":1907,"j":0.6},{"p":"Japanese","c":"semantic","r":"related","x":1968,"j":0.4},{"p":"Japanese","c":"semantic","r":"related","x":2021,"j":0.3},{"p":"Japanese","c":"semantic","r":"related","x":2100,"j":0.4},{"p":"Japanese","c":"semantic","r":"related","x":2249,"j":0.3},{"p":"Japanese","c":"semantic","r":"related","x":2372,"j":0.9},
{"p":"Japanese","c":"semantic","r":"unrelated","x":325,"j":0.55},{"p":"Japanese","c":"semantic","r":"unrelated","x":400,"j":0.2},{"p":"Japanese","c":"semantic","r":"unrelated","x":465,"j":0.88},{"p":"Japanese","c":"semantic","r":"unrelated","x":520,"j":0.35},{"p":"Japanese","c":"semantic","r":"unrelated","x":570,"j":0.72},{"p":"Japanese","c":"semantic","r":"unrelated","x":615,"j":0.1},{"p":"Japanese","c":"semantic","r":"unrelated","x":660,"j":0.6},{"p":"Japanese","c":"semantic","r":"unrelated","x":710,"j":0.42},{"p":"Japanese","c":"semantic","r":"unrelated","x":760,"j":0.97},{"p":"Japanese","c":"semantic","r":"unrelated","x":820,"j":0.28},{"p":"Japanese","c":"semantic","r":"unrelated","x":890,"j":0.8},{"p":"Japanese","c":"semantic","r":"unrelated","x":980,"j":0.05},{"p":"Japanese","c":"semantic","r":"unrelated","x":1090,"j":0.48},{"p":"Japanese","c":"semantic","r":"unrelated","x":1210,"j":0.66},
{"p":"Japanese","c":"semantic","r":"unrelated","x":1267,"j":0.5},{"p":"Japanese","c":"semantic","r":"unrelated","x":1319,"j":0.7},{"p":"Japanese","c":"semantic","r":"unrelated","x":1390,"j":0.2},{"p":"Japanese","c":"semantic","r":"unrelated","x":1460,"j":0.6},{"p":"Japanese","c":"semantic","r":"unrelated","x":1530,"j":0.4},{"p":"Japanese","c":"semantic","r":"unrelated","x":1583,"j":0.9},{"p":"Japanese","c":"semantic","r":"unrelated","x":1626,"j":0.3},{"p":"Japanese","c":"semantic","r":"unrelated","x":1723,"j":0.9},{"p":"Japanese","c":"semantic","r":"unrelated","x":2179,"j":0.2},{"p":"Japanese","c":"semantic","r":"unrelated","x":2328,"j":0.9},{"p":"Japanese","c":"semantic","r":"unrelated","x":2337,"j":0.3},
{"p":"Japanese","c":"phonological","r":"related","x":325,"j":0.55},{"p":"Japanese","c":"phonological","r":"related","x":400,"j":0.2},{"p":"Japanese","c":"phonological","r":"related","x":460,"j":0.88},{"p":"Japanese","c":"phonological","r":"related","x":510,"j":0.35},{"p":"Japanese","c":"phonological","r":"related","x":555,"j":0.72},{"p":"Japanese","c":"phonological","r":"related","x":600,"j":0.1},{"p":"Japanese","c":"phonological","r":"related","x":645,"j":0.6},{"p":"Japanese","c":"phonological","r":"related","x":690,"j":0.42},{"p":"Japanese","c":"phonological","r":"related","x":740,"j":0.97},{"p":"Japanese","c":"phonological","r":"related","x":800,"j":0.28},{"p":"Japanese","c":"phonological","r":"related","x":870,"j":0.8},{"p":"Japanese","c":"phonological","r":"related","x":960,"j":0.05},{"p":"Japanese","c":"phonological","r":"related","x":1070,"j":0.48},{"p":"Japanese","c":"phonological","r":"related","x":1190,"j":0.66},
{"p":"Japanese","c":"phonological","r":"related","x":1267,"j":0.5},{"p":"Japanese","c":"phonological","r":"related","x":1337,"j":0.3},{"p":"Japanese","c":"phonological","r":"related","x":1390,"j":0.6},{"p":"Japanese","c":"phonological","r":"related","x":1460,"j":0.2},{"p":"Japanese","c":"phonological","r":"related","x":1486,"j":0.7},{"p":"Japanese","c":"phonological","r":"related","x":1547,"j":0.2},{"p":"Japanese","c":"phonological","r":"related","x":1583,"j":0.5},{"p":"Japanese","c":"phonological","r":"related","x":1635,"j":0.6},{"p":"Japanese","c":"phonological","r":"related","x":1688,"j":0.7},{"p":"Japanese","c":"phonological","r":"related","x":1846,"j":0.4},{"p":"Japanese","c":"phonological","r":"related","x":1898,"j":0.4},{"p":"Japanese","c":"phonological","r":"related","x":1933,"j":0.6},{"p":"Japanese","c":"phonological","r":"related","x":2003,"j":0.3},{"p":"Japanese","c":"phonological","r":"related","x":2433,"j":0.3},
{"p":"Japanese","c":"phonological","r":"unrelated","x":335,"j":0.12},{"p":"Japanese","c":"phonological","r":"unrelated","x":410,"j":0.78},{"p":"Japanese","c":"phonological","r":"unrelated","x":475,"j":0.45},{"p":"Japanese","c":"phonological","r":"unrelated","x":530,"j":0.9},{"p":"Japanese","c":"phonological","r":"unrelated","x":580,"j":0.3},{"p":"Japanese","c":"phonological","r":"unrelated","x":625,"j":0.62},{"p":"Japanese","c":"phonological","r":"unrelated","x":670,"j":0.05},{"p":"Japanese","c":"phonological","r":"unrelated","x":720,"j":0.5},{"p":"Japanese","c":"phonological","r":"unrelated","x":770,"j":0.85},{"p":"Japanese","c":"phonological","r":"unrelated","x":830,"j":0.22},{"p":"Japanese","c":"phonological","r":"unrelated","x":900,"j":0.7},{"p":"Japanese","c":"phonological","r":"unrelated","x":990,"j":0.38},{"p":"Japanese","c":"phonological","r":"unrelated","x":1100,"j":0.95},{"p":"Japanese","c":"phonological","r":"unrelated","x":1220,"j":0.15},
{"p":"Japanese","c":"phonological","r":"unrelated","x":1302,"j":0.4},{"p":"Japanese","c":"phonological","r":"unrelated","x":1407,"j":0.3},{"p":"Japanese","c":"phonological","r":"unrelated","x":1442,"j":0.6},{"p":"Japanese","c":"phonological","r":"unrelated","x":1521,"j":0.4},{"p":"Japanese","c":"phonological","r":"unrelated","x":1539,"j":0.2},{"p":"Japanese","c":"phonological","r":"unrelated","x":1618,"j":0.5},{"p":"Japanese","c":"phonological","r":"unrelated","x":1758,"j":0.4},{"p":"Japanese","c":"phonological","r":"unrelated","x":1837,"j":0.1},{"p":"Japanese","c":"phonological","r":"unrelated","x":2065,"j":0.3},{"p":"Japanese","c":"phonological","r":"unrelated","x":2223,"j":0.4},{"p":"Japanese","c":"phonological","r":"unrelated","x":2460,"j":0.7},
{"p":"Japanese","c":"phonotranslation","r":"related","x":307,"j":0.12},{"p":"Japanese","c":"phonotranslation","r":"related","x":382,"j":0.78},{"p":"Japanese","c":"phonotranslation","r":"related","x":442,"j":0.45},{"p":"Japanese","c":"phonotranslation","r":"related","x":492,"j":0.9},{"p":"Japanese","c":"phonotranslation","r":"related","x":537,"j":0.3},{"p":"Japanese","c":"phonotranslation","r":"related","x":582,"j":0.62},{"p":"Japanese","c":"phonotranslation","r":"related","x":627,"j":0.05},{"p":"Japanese","c":"phonotranslation","r":"related","x":672,"j":0.5},{"p":"Japanese","c":"phonotranslation","r":"related","x":722,"j":0.85},{"p":"Japanese","c":"phonotranslation","r":"related","x":782,"j":0.22},{"p":"Japanese","c":"phonotranslation","r":"related","x":852,"j":0.7},{"p":"Japanese","c":"phonotranslation","r":"related","x":942,"j":0.38},{"p":"Japanese","c":"phonotranslation","r":"related","x":1052,"j":0.95},{"p":"Japanese","c":"phonotranslation","r":"related","x":1172,"j":0.15},
{"p":"Japanese","c":"phonotranslation","r":"related","x":1302,"j":0.4},{"p":"Japanese","c":"phonotranslation","r":"related","x":1337,"j":0.7},{"p":"Japanese","c":"phonotranslation","r":"related","x":1390,"j":0.3},{"p":"Japanese","c":"phonotranslation","r":"related","x":1442,"j":0.6},{"p":"Japanese","c":"phonotranslation","r":"related","x":1583,"j":0.6},{"p":"Japanese","c":"phonotranslation","r":"related","x":1618,"j":0.3},{"p":"Japanese","c":"phonotranslation","r":"related","x":1688,"j":0.5},{"p":"Japanese","c":"phonotranslation","r":"related","x":1819,"j":0.7},{"p":"Japanese","c":"phonotranslation","r":"related","x":1933,"j":0.4},{"p":"Japanese","c":"phonotranslation","r":"related","x":1951,"j":0.2},{"p":"Japanese","c":"phonotranslation","r":"related","x":2056,"j":0.2},{"p":"Japanese","c":"phonotranslation","r":"related","x":2091,"j":0.7},
{"p":"Japanese","c":"phonotranslation","r":"unrelated","x":317,"j":0.55},{"p":"Japanese","c":"phonotranslation","r":"unrelated","x":392,"j":0.2},{"p":"Japanese","c":"phonotranslation","r":"unrelated","x":457,"j":0.88},{"p":"Japanese","c":"phonotranslation","r":"unrelated","x":512,"j":0.35},{"p":"Japanese","c":"phonotranslation","r":"unrelated","x":562,"j":0.72},{"p":"Japanese","c":"phonotranslation","r":"unrelated","x":607,"j":0.1},{"p":"Japanese","c":"phonotranslation","r":"unrelated","x":652,"j":0.6},{"p":"Japanese","c":"phonotranslation","r":"unrelated","x":702,"j":0.42},{"p":"Japanese","c":"phonotranslation","r":"unrelated","x":752,"j":0.97},{"p":"Japanese","c":"phonotranslation","r":"unrelated","x":812,"j":0.28},{"p":"Japanese","c":"phonotranslation","r":"unrelated","x":882,"j":0.8},{"p":"Japanese","c":"phonotranslation","r":"unrelated","x":972,"j":0.05},{"p":"Japanese","c":"phonotranslation","r":"unrelated","x":1082,"j":0.48},{"p":"Japanese","c":"phonotranslation","r":"unrelated","x":1202,"j":0.66},
{"p":"Japanese","c":"phonotranslation","r":"unrelated","x":1284,"j":0.3},{"p":"Japanese","c":"phonotranslation","r":"unrelated","x":1407,"j":0.5},{"p":"Japanese","c":"phonotranslation","r":"unrelated","x":1477,"j":0.4},{"p":"Japanese","c":"phonotranslation","r":"unrelated","x":1547,"j":0.6},{"p":"Japanese","c":"phonotranslation","r":"unrelated","x":1600,"j":0.4},{"p":"Japanese","c":"phonotranslation","r":"unrelated","x":1670,"j":0.3},{"p":"Japanese","c":"phonotranslation","r":"unrelated","x":1723,"j":0.3},{"p":"Japanese","c":"phonotranslation","r":"unrelated","x":1776,"j":0.3},{"p":"Japanese","c":"phonotranslation","r":"unrelated","x":1889,"j":0.6},{"p":"Japanese","c":"phonotranslation","r":"unrelated","x":2021,"j":0.4},{"p":"Japanese","c":"phonotranslation","r":"unrelated","x":2074,"j":0.6},
{"p":"Japanese","c":"translation","r":"related","x":320,"j":0.55},{"p":"Japanese","c":"translation","r":"related","x":395,"j":0.2},{"p":"Japanese","c":"translation","r":"related","x":455,"j":0.88},{"p":"Japanese","c":"translation","r":"related","x":505,"j":0.35},{"p":"Japanese","c":"translation","r":"related","x":550,"j":0.72},{"p":"Japanese","c":"translation","r":"related","x":595,"j":0.1},{"p":"Japanese","c":"translation","r":"related","x":640,"j":0.6},{"p":"Japanese","c":"translation","r":"related","x":685,"j":0.42},{"p":"Japanese","c":"translation","r":"related","x":735,"j":0.97},{"p":"Japanese","c":"translation","r":"related","x":795,"j":0.28},{"p":"Japanese","c":"translation","r":"related","x":865,"j":0.8},{"p":"Japanese","c":"translation","r":"related","x":955,"j":0.05},{"p":"Japanese","c":"translation","r":"related","x":1065,"j":0.48},{"p":"Japanese","c":"translation","r":"related","x":1185,"j":0.66},
{"p":"Japanese","c":"translation","r":"related","x":1249,"j":0.3},{"p":"Japanese","c":"translation","r":"related","x":1302,"j":0.6},{"p":"Japanese","c":"translation","r":"related","x":1372,"j":0.5},{"p":"Japanese","c":"translation","r":"related","x":1468,"j":0.4},{"p":"Japanese","c":"translation","r":"related","x":1565,"j":0.2},{"p":"Japanese","c":"translation","r":"related","x":1609,"j":0.3},{"p":"Japanese","c":"translation","r":"related","x":1688,"j":0.2},{"p":"Japanese","c":"translation","r":"related","x":1776,"j":0.3},{"p":"Japanese","c":"translation","r":"related","x":1863,"j":0.5},{"p":"Japanese","c":"translation","r":"related","x":2039,"j":0.5},{"p":"Japanese","c":"translation","r":"related","x":2083,"j":0.3},{"p":"Japanese","c":"translation","r":"related","x":2109,"j":0.6},{"p":"Japanese","c":"translation","r":"related","x":2258,"j":0.3},{"p":"Japanese","c":"translation","r":"related","x":2320,"j":0.6},
{"p":"Japanese","c":"translation","r":"unrelated","x":330,"j":0.12},{"p":"Japanese","c":"translation","r":"unrelated","x":405,"j":0.78},{"p":"Japanese","c":"translation","r":"unrelated","x":470,"j":0.45},{"p":"Japanese","c":"translation","r":"unrelated","x":525,"j":0.9},{"p":"Japanese","c":"translation","r":"unrelated","x":575,"j":0.3},{"p":"Japanese","c":"translation","r":"unrelated","x":620,"j":0.62},{"p":"Japanese","c":"translation","r":"unrelated","x":665,"j":0.05},{"p":"Japanese","c":"translation","r":"unrelated","x":715,"j":0.5},{"p":"Japanese","c":"translation","r":"unrelated","x":765,"j":0.85},{"p":"Japanese","c":"translation","r":"unrelated","x":825,"j":0.22},{"p":"Japanese","c":"translation","r":"unrelated","x":895,"j":0.7},{"p":"Japanese","c":"translation","r":"unrelated","x":985,"j":0.38},{"p":"Japanese","c":"translation","r":"unrelated","x":1095,"j":0.95},{"p":"Japanese","c":"translation","r":"unrelated","x":1215,"j":0.15},
{"p":"Japanese","c":"translation","r":"unrelated","x":1267,"j":0.5},{"p":"Japanese","c":"translation","r":"unrelated","x":1337,"j":0.3},{"p":"Japanese","c":"translation","r":"unrelated","x":1442,"j":0.2},{"p":"Japanese","c":"translation","r":"unrelated","x":1512,"j":0.5},{"p":"Japanese","c":"translation","r":"unrelated","x":1583,"j":0.4},{"p":"Japanese","c":"translation","r":"unrelated","x":1670,"j":0.3},{"p":"Japanese","c":"translation","r":"unrelated","x":1837,"j":0.4},{"p":"Japanese","c":"translation","r":"unrelated","x":1889,"j":0.4},{"p":"Japanese","c":"translation","r":"unrelated","x":2003,"j":0.5},{"p":"Japanese","c":"translation","r":"unrelated","x":2232,"j":0.4},{"p":"Japanese","c":"translation","r":"unrelated","x":2355,"j":0.2}
]},
"spacing": 21,
"bounds": "flush",
"hconcat": [
 {"width": 457, "height": 593,
  "title": {"text": "Spanish-English Bilinguals", "fontSize": 23, "fontWeight": "bold", "color": "#000000", "anchor": "middle", "offset": 4},
  "transform": [{"filter": "datum.p == 'Spanish'"}],
  "layer": [
    {"transform": [{"filter": "datum.c == 'semantic'"}], "layer": [
      {"transform": [{"filter": "isValid(datum.d)"}], "mark": {"type": "area", "interpolate": "monotone", "opacity": 0.47},
       "encoding": {"x": {"field": "x", "type": "quantitative", "title": "Picture naming latency (ms)", "scale": {"domain": [200, 2605], "nice": false, "zero": false}, "axis": {"format": "d", "titleX": 467.5, "values": [500, 1000, 1500, 2000, 2500]}},
        "y": {"field": "d", "type": "quantitative", "stack": null, "scale": {"domain": [-26.475, 3.175], "nice": false, "zero": false}, "axis": null},
        "y2": {"datum": 0},
        "color": {"field": "r", "type": "nominal", "scale": {"domain": ["related", "unrelated"], "range": ["#F4502A", "#5BCFF0"]}}}},
      {"transform": [{"filter": "isValid(datum.lab)"}], "mark": {"type": "text", "fontSize": 20, "baseline": "middle", "color": "#000000"},
       "encoding": {"x": {"datum": 1500, "type": "quantitative"}, "y": {"datum": 2.03, "type": "quantitative"}, "text": {"field": "lab"}}}
    ]},
    {"transform": [{"filter": "datum.c == 'phonological'"}], "layer": [
      {"transform": [{"filter": "isValid(datum.d)"}], "mark": {"type": "area", "interpolate": "monotone", "opacity": 0.47},
       "encoding": {"x": {"field": "x", "type": "quantitative", "title": "Picture naming latency (ms)", "scale": {"domain": [200, 2605], "nice": false, "zero": false}, "axis": {"format": "d", "titleX": 467.5, "values": [500, 1000, 1500, 2000, 2500]}},
        "y": {"field": "d", "type": "quantitative", "stack": null, "scale": {"domain": [-19.475, 10.175], "nice": false, "zero": false}, "axis": null},
        "y2": {"datum": 0},
        "color": {"field": "r", "type": "nominal", "scale": {"domain": ["related", "unrelated"], "range": ["#F4502A", "#5BCFF0"]}}}},
      {"transform": [{"filter": "isValid(datum.lab)"}], "mark": {"type": "text", "fontSize": 20, "baseline": "middle", "color": "#000000"},
       "encoding": {"x": {"datum": 1500, "type": "quantitative"}, "y": {"datum": 2.03, "type": "quantitative"}, "text": {"field": "lab"}}}
    ]},
    {"transform": [{"filter": "datum.c == 'phonotranslation'"}], "layer": [
      {"transform": [{"filter": "isValid(datum.d)"}], "mark": {"type": "area", "interpolate": "monotone", "opacity": 0.47},
       "encoding": {"x": {"field": "x", "type": "quantitative", "title": "Picture naming latency (ms)", "scale": {"domain": [200, 2605], "nice": false, "zero": false}, "axis": {"format": "d", "titleX": 467.5, "values": [500, 1000, 1500, 2000, 2500]}},
        "y": {"field": "d", "type": "quantitative", "stack": null, "scale": {"domain": [-12.475, 17.175], "nice": false, "zero": false}, "axis": null},
        "y2": {"datum": 0},
        "color": {"field": "r", "type": "nominal", "scale": {"domain": ["related", "unrelated"], "range": ["#F4502A", "#5BCFF0"]}}}},
      {"transform": [{"filter": "isValid(datum.lab)"}], "mark": {"type": "text", "fontSize": 20, "baseline": "middle", "color": "#000000"},
       "encoding": {"x": {"datum": 1500, "type": "quantitative"}, "y": {"datum": 2.03, "type": "quantitative"}, "text": {"field": "lab"}}}
    ]},
    {"transform": [{"filter": "datum.c == 'translation'"}], "layer": [
      {"transform": [{"filter": "isValid(datum.d)"}], "mark": {"type": "area", "interpolate": "monotone", "opacity": 0.47},
       "encoding": {"x": {"field": "x", "type": "quantitative", "title": "Picture naming latency (ms)", "scale": {"domain": [200, 2605], "nice": false, "zero": false}, "axis": {"format": "d", "titleX": 467.5, "values": [500, 1000, 1500, 2000, 2500]}},
        "y": {"field": "d", "type": "quantitative", "stack": null, "scale": {"domain": [-5.475, 24.175], "nice": false, "zero": false}, "axis": null},
        "y2": {"datum": 0},
        "color": {"field": "r", "type": "nominal", "scale": {"domain": ["related", "unrelated"], "range": ["#F4502A", "#5BCFF0"]}}}},
      {"transform": [{"filter": "isValid(datum.lab)"}], "mark": {"type": "text", "fontSize": 20, "baseline": "middle", "color": "#000000"},
       "encoding": {"x": {"datum": 1500, "type": "quantitative"}, "y": {"datum": 2.03, "type": "quantitative"}, "text": {"field": "lab"}}}
    ]},
    {"transform": [{"filter": "isValid(datum.j)"}],
     "mark": {"type": "circle", "size": 9, "opacity": 0.95},
     "encoding": {"x": {"field": "x", "type": "quantitative", "title": "Picture naming latency (ms)", "scale": {"domain": [200, 2605], "nice": false, "zero": false}, "axis": {"format": "d", "titleX": 467.5, "values": [500, 1000, 1500, 2000, 2500]}},
      "y": {"field": "c", "type": "nominal", "scale": {"type": "band", "domain": ["semantic", "phonological", "phonotranslation", "translation"], "paddingInner": 0.907143, "paddingOuter": 0.571429, "align": 0.53125}, "axis": null},
      "yOffset": {"field": "j", "type": "quantitative", "scale": {"domain": [0, 1], "nice": false, "zero": false}},
      "color": {"field": "r", "type": "nominal", "scale": {"domain": ["related", "unrelated"], "range": ["#F4502A", "#5BCFF0"]}}}},
    {"transform": [{"filter": "isValid(datum.q1)"}],
     "encoding": {
      "y": {"field": "c", "type": "nominal", "title": "Distractor type", "scale": {"type": "band", "domain": ["semantic", "phonological", "phonotranslation", "translation"], "paddingInner": 0.807143, "paddingOuter": 0.521429, "align": 0.53425}, "axis": {"orient": "left", "labelFontSize": 17.5, "titlePadding": 0, "tickSize": 6}},
      "yOffset": {"field": "r", "type": "nominal", "scale": {"domain": ["unrelated", "related"]}}},
     "layer": [
      {"mark": {"type": "rule", "color": "#333333", "strokeWidth": 1.2},
       "encoding": {"x": {"field": "lo", "type": "quantitative", "title": "Picture naming latency (ms)", "scale": {"domain": [200, 2605], "nice": false, "zero": false}, "axis": {"format": "d", "titleX": 467.5, "values": [500, 1000, 1500, 2000, 2500]}}, "x2": {"field": "hi"}}},
      {"mark": {"type": "rect", "stroke": "#333333", "strokeWidth": 1.2, "fillOpacity": 0.55},
       "encoding": {"x": {"field": "q1", "type": "quantitative", "title": "Picture naming latency (ms)", "scale": {"domain": [200, 2605], "nice": false, "zero": false}, "axis": {"format": "d", "titleX": 467.5, "values": [500, 1000, 1500, 2000, 2500]}}, "x2": {"field": "q3"},
        "color": {"field": "r", "type": "nominal", "scale": {"domain": ["related", "unrelated"], "range": ["#F4502A", "#5BCFF0"]},
         "legend": {"title": "Relatedness", "orient": "none", "legendX": 302, "legendY": -75, "direction": "horizontal", "titleOrient": "left",
          "symbolType": "M-0.8,-0.6H0.8V0.6H-0.8Z M-0.8,0H0.8 M0,-0.6V-1 M0,0.6V1", "symbolSize": 400,
          "symbolStrokeColor": "#333333", "symbolStrokeWidth": 1.2, "labelFontSize": 18.5, "labelColor": "#1a1a1a",
          "titleFontSize": 20, "titleFontWeight": "normal", "titleColor": "#000000", "columnPadding": 14, "labelOffset": 9, "titlePadding": 12,
          "encode": {"symbols": {"update": {"fillOpacity": {"value": 0.75}, "stroke": {"value": "#333333"}, "strokeWidth": {"value": 1.2}}}}}}}},
      {"mark": {"type": "rect", "stroke": "#000000", "strokeWidth": 2.6, "fillOpacity": 0},
       "encoding": {"x": {"field": "med", "type": "quantitative", "title": "Picture naming latency (ms)", "scale": {"domain": [200, 2605], "nice": false, "zero": false}, "axis": {"format": "d", "titleX": 467.5, "values": [500, 1000, 1500, 2000, 2500]}}, "x2": {"field": "med"}}}
     ]}
  ],
  "resolve": {"scale": {"y": "independent", "yOffset": "independent"}}
 },
 {"width": 457, "height": 593,
  "title": {"text": "Japanese-English Bilinguals", "fontSize": 23, "fontWeight": "bold", "color": "#000000", "anchor": "middle", "offset": 4},
  "transform": [{"filter": "datum.p == 'Japanese'"}],
  "layer": [
    {"transform": [{"filter": "datum.c == 'semantic'"}], "layer": [
      {"transform": [{"filter": "isValid(datum.d)"}], "mark": {"type": "area", "interpolate": "monotone", "opacity": 0.47},
       "encoding": {"x": {"field": "x", "type": "quantitative", "scale": {"domain": [200, 2605], "nice": false, "zero": false}, "axis": {"format": "d", "title": null, "values": [500, 1000, 1500, 2000, 2500]}},
        "y": {"field": "d", "type": "quantitative", "stack": null, "scale": {"domain": [-26.475, 3.175], "nice": false, "zero": false}, "axis": null},
        "y2": {"datum": 0},
        "color": {"field": "r", "type": "nominal", "scale": {"domain": ["related", "unrelated"], "range": ["#F4502A", "#5BCFF0"]}}}},
      {"transform": [{"filter": "isValid(datum.lab)"}], "mark": {"type": "text", "fontSize": 20, "baseline": "middle", "color": "#000000"},
       "encoding": {"x": {"datum": 1500, "type": "quantitative"}, "y": {"datum": 2.03, "type": "quantitative"}, "text": {"field": "lab"}}}
    ]},
    {"transform": [{"filter": "datum.c == 'phonological'"}], "layer": [
      {"transform": [{"filter": "isValid(datum.d)"}], "mark": {"type": "area", "interpolate": "monotone", "opacity": 0.47},
       "encoding": {"x": {"field": "x", "type": "quantitative", "scale": {"domain": [200, 2605], "nice": false, "zero": false}, "axis": {"format": "d", "title": null, "values": [500, 1000, 1500, 2000, 2500]}},
        "y": {"field": "d", "type": "quantitative", "stack": null, "scale": {"domain": [-19.475, 10.175], "nice": false, "zero": false}, "axis": null},
        "y2": {"datum": 0},
        "color": {"field": "r", "type": "nominal", "scale": {"domain": ["related", "unrelated"], "range": ["#F4502A", "#5BCFF0"]}}}},
      {"transform": [{"filter": "isValid(datum.lab)"}], "mark": {"type": "text", "fontSize": 20, "baseline": "middle", "color": "#000000"},
       "encoding": {"x": {"datum": 1500, "type": "quantitative"}, "y": {"datum": 2.03, "type": "quantitative"}, "text": {"field": "lab"}}}
    ]},
    {"transform": [{"filter": "datum.c == 'phonotranslation'"}], "layer": [
      {"transform": [{"filter": "isValid(datum.d)"}], "mark": {"type": "area", "interpolate": "monotone", "opacity": 0.47},
       "encoding": {"x": {"field": "x", "type": "quantitative", "scale": {"domain": [200, 2605], "nice": false, "zero": false}, "axis": {"format": "d", "title": null, "values": [500, 1000, 1500, 2000, 2500]}},
        "y": {"field": "d", "type": "quantitative", "stack": null, "scale": {"domain": [-12.475, 17.175], "nice": false, "zero": false}, "axis": null},
        "y2": {"datum": 0},
        "color": {"field": "r", "type": "nominal", "scale": {"domain": ["related", "unrelated"], "range": ["#F4502A", "#5BCFF0"]}}}},
      {"transform": [{"filter": "isValid(datum.lab)"}], "mark": {"type": "text", "fontSize": 20, "baseline": "middle", "color": "#000000"},
       "encoding": {"x": {"datum": 1500, "type": "quantitative"}, "y": {"datum": 2.03, "type": "quantitative"}, "text": {"field": "lab"}}}
    ]},
    {"transform": [{"filter": "datum.c == 'translation'"}], "layer": [
      {"transform": [{"filter": "isValid(datum.d)"}], "mark": {"type": "area", "interpolate": "monotone", "opacity": 0.47},
       "encoding": {"x": {"field": "x", "type": "quantitative", "scale": {"domain": [200, 2605], "nice": false, "zero": false}, "axis": {"format": "d", "title": null, "values": [500, 1000, 1500, 2000, 2500]}},
        "y": {"field": "d", "type": "quantitative", "stack": null, "scale": {"domain": [-5.475, 24.175], "nice": false, "zero": false}, "axis": null},
        "y2": {"datum": 0},
        "color": {"field": "r", "type": "nominal", "scale": {"domain": ["related", "unrelated"], "range": ["#F4502A", "#5BCFF0"]}}}},
      {"transform": [{"filter": "isValid(datum.lab)"}], "mark": {"type": "text", "fontSize": 20, "baseline": "middle", "color": "#000000"},
       "encoding": {"x": {"datum": 1500, "type": "quantitative"}, "y": {"datum": 2.03, "type": "quantitative"}, "text": {"field": "lab"}}}
    ]},
    {"transform": [{"filter": "isValid(datum.j)"}],
     "mark": {"type": "circle", "size": 9, "opacity": 0.95},
     "encoding": {"x": {"field": "x", "type": "quantitative", "scale": {"domain": [200, 2605], "nice": false, "zero": false}, "axis": {"format": "d", "title": null, "values": [500, 1000, 1500, 2000, 2500]}},
      "y": {"field": "c", "type": "nominal", "scale": {"type": "band", "domain": ["semantic", "phonological", "phonotranslation", "translation"], "paddingInner": 0.907143, "paddingOuter": 0.571429, "align": 0.53125}, "axis": null},
      "yOffset": {"field": "j", "type": "quantitative", "scale": {"domain": [0, 1], "nice": false, "zero": false}},
      "color": {"field": "r", "type": "nominal", "scale": {"domain": ["related", "unrelated"], "range": ["#F4502A", "#5BCFF0"]}}}},
    {"transform": [{"filter": "isValid(datum.q1)"}],
     "encoding": {
      "y": {"field": "c", "type": "nominal", "scale": {"type": "band", "domain": ["semantic", "phonological", "phonotranslation", "translation"], "paddingInner": 0.807143, "paddingOuter": 0.521429, "align": 0.53425}, "axis": null},
      "yOffset": {"field": "r", "type": "nominal", "scale": {"domain": ["unrelated", "related"]}}},
     "layer": [
      {"mark": {"type": "rule", "color": "#333333", "strokeWidth": 1.2},
       "encoding": {"x": {"field": "lo", "type": "quantitative", "scale": {"domain": [200, 2605], "nice": false, "zero": false}, "axis": {"format": "d", "title": null, "values": [500, 1000, 1500, 2000, 2500]}}, "x2": {"field": "hi"}}},
      {"mark": {"type": "rect", "stroke": "#333333", "strokeWidth": 1.2, "fillOpacity": 0.55},
       "encoding": {"x": {"field": "q1", "type": "quantitative", "scale": {"domain": [200, 2605], "nice": false, "zero": false}, "axis": {"format": "d", "title": null, "values": [500, 1000, 1500, 2000, 2500]}}, "x2": {"field": "q3"},
        "color": {"field": "r", "type": "nominal", "scale": {"domain": ["related", "unrelated"], "range": ["#F4502A", "#5BCFF0"]}}}},
      {"mark": {"type": "rect", "stroke": "#000000", "strokeWidth": 2.6, "fillOpacity": 0},
       "encoding": {"x": {"field": "med", "type": "quantitative", "scale": {"domain": [200, 2605], "nice": false, "zero": false}, "axis": {"format": "d", "title": null, "values": [500, 1000, 1500, 2000, 2500]}}, "x2": {"field": "med"}}}
     ]}
  ],
  "resolve": {"scale": {"y": "independent", "yOffset": "independent"}}
 }
],
"resolve": {"scale": {"x": "independent", "y": "independent", "yOffset": "independent", "color": "shared"}, "legend": {"color": "shared"}},
"title": {"text": [
  "FIGURE 1 | Raincloud plots (Allen et al., 2019) showing distributions, boxplots, and raw data of picture naming latencies (in milliseconds) for related and unrelated",
  "trials across semantic, phonological, phono-translation, and translation distractor types for Spanish-English (left) and Japanese-English (right) bilingual groups.",
  "Statistical analyses were performed on log transformed response times. Significance codes: ns = not significant, *p < 0.05, **p < 0.01, ***p < 0.001."],
  "orient": "bottom", "anchor": "start", "fontSize": 17.5, "fontWeight": "normal", "color": "#231F20", "lineHeight": 23.5, "offset": 10, "dx": -117},
"config": {
  "font": "Liberation Sans",
  "view": {"stroke": null},
  "axis": {"grid": false, "domainColor": "#1a1a1a", "domainWidth": 1.1, "tickColor": "#333333", "tickSize": 5, "labelFontSize": 17, "labelColor": "#4D4D4D", "labelPadding": 1, "titleFontSize": 20, "titleFontWeight": "normal", "titleColor": "#000000", "titlePadding": 0},
  "axisX": {"titlePadding": 2}
}
}
